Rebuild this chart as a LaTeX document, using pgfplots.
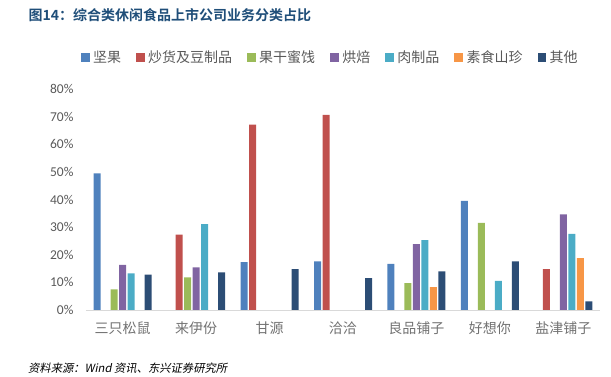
\documentclass[border=0pt]{standalone}
\usepackage{pgfplots}
\pgfplotsset{compat=1.18}
\usepackage{fontspec}
\setmainfont{Carlito}
\newfontfamily\cjk{Noto Sans CJK SC}[BoldFont={Noto Sans CJK SC Bold}]
\newfontfamily\cjkit{Noto Sans CJK SC}[FakeSlant=0.2]
\definecolor{cA}{HTML}{4F81BD}
\definecolor{cB}{HTML}{C0504D}
\definecolor{cC}{HTML}{9BBB59}
\definecolor{cD}{HTML}{8064A2}
\definecolor{cE}{HTML}{4BACC6}
\definecolor{cF}{HTML}{F79646}
\definecolor{cG}{HTML}{2C4D75}
\definecolor{tgray}{HTML}{595959}
\definecolor{ttl}{HTML}{1F4E79}
\begin{document}
\begin{tikzpicture}
\begin{axis}[
  name=ax,
  at={(0,0)}, anchor=south west,
  width=514pt, height=221pt, scale only axis,
  xmin=-0.5, xmax=6.5, ymin=0, ymax=80,
  ybar=1.5pt, bar width=7pt,
  xtick={0,1,2,3,4,5,6},
  xticklabels={三只松鼠,来伊份,甘源,洽洽,良品铺子,好想你,盐津铺子},
  ytick={0,10,...,80},
  yticklabel={\pgfmathprintnumber{\tick}\%},
  /pgf/number format/assume math mode=true,
  major tick length=0pt,
  axis x line*=bottom, axis y line*=left,
  x axis line style={draw=black!15, line width=0.8pt, -},
  y axis line style={draw=none},
  xticklabel style={font=\cjk\fontsize{14}{16}\selectfont, text=tgray!85, yshift=-8pt},
  yticklabel style={font=\fontsize{13.5}{16}\selectfont, text=tgray, xshift=-9pt},
  legend style={at={(-0.0103,1.1425)}, anchor=west, draw=none, fill=none,
    inner sep=0pt, nodes={inner sep=0pt, text=tgray},
    font=\cjk\fontsize{14}{16}\selectfont,
    /tikz/every odd column/.append style={column sep=3.5pt},
    /tikz/every even column/.append style={column sep=15pt}},
  legend columns=-1,
  legend image code/.code={\fill[#1] (0pt,-4.3pt) rectangle (8.6pt,4.3pt);},
  clip=false,
]
\addplot[fill=cA, draw=none] coordinates {(0,49.5) (2,17.3) (3,17.6) (4,16.7) (5,39.5)};
\addplot[fill=cB, draw=none] coordinates {(1,27.3) (2,67.1) (3,70.6) (6,14.8)};
\addplot[fill=cC, draw=none] coordinates {(0,7.5) (1,11.8) (4,9.7) (5,31.5)};
\addplot[fill=cD, draw=none] coordinates {(0,16.3) (1,15.4) (4,23.8) (6,34.6)};
\addplot[fill=cE, draw=none] coordinates {(0,13.3) (1,31.1) (4,25.3) (5,10.5) (6,27.6)};
\addplot[fill=cF, draw=none] coordinates {(4,8.3) (6,18.8)};
\addplot[fill=cG, draw=none] coordinates {(0,12.8) (1,13.6) (2,14.8) (3,11.5) (4,14.0) (5,17.6) (6,3.1)};
\legend{坚果,炒货及豆制品,果干蜜饯,烘焙,肉制品,素食山珍,其他}
\end{axis}
\node[anchor=west, inner sep=0pt, text=ttl, font=\cjk\bfseries\fontsize{14}{16}\selectfont] at (-57.5pt,295pt) {图14：综合类休闲食品上市公司业务分类占比};
\node[anchor=west, inner sep=0pt, text=black, font=\cjkit\fontsize{11.3}{13}\selectfont] at (-58pt,-58pt) {资料来源：Wind 资讯、东兴证券研究所};
\pgfresetboundingbox
\path[use as bounding box] (-86pt,-67pt) rectangle (525pt,310pt);
\end{tikzpicture}
\end{document}
